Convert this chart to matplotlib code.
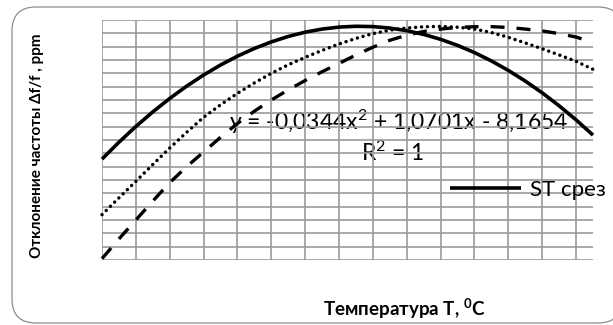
import numpy as np
import matplotlib
matplotlib.use("Agg")
import matplotlib.pyplot as plt
from matplotlib.patches import FancyBboxPatch

plt.rcParams['font.family'] = ['Lato', 'DejaVu Sans']
plt.rcParams['mathtext.fontset'] = 'custom'
plt.rcParams['mathtext.rm'] = 'Lato'
plt.rcParams['mathtext.it'] = 'Lato'
plt.rcParams['mathtext.bf'] = 'Lato:bold'

# температура, град C (шаг 2.5)
temp = [-22.5, -20, -17.5, -15, -12.5, -10, -7.5, -5, -2.5, 0,
        2.5, 5, 7.5, 10, 12.5, 15, 17.5, 20, 22.5, 25,
        27.5, 30, 32.5, 35, 37.5, 40, 42.5, 45, 47.5, 50]

# ST срез (линия тренда, R^2 = 1)
st_cut = [-49.66, -43.33, -37.43, -31.96, -26.92, -22.31, -18.13, -14.38, -11.06, -8.17,
          -5.71, -3.67, -2.07, -0.90, -0.16, 0.15, 0.03, -0.52, -1.50, -2.91,
          -4.75, -7.02, -9.72, -12.85, -16.41, -20.40, -24.82, -29.67, -34.95, -40.66]

# точечная кривая
dotted = [-70.5, -64.2, -58.0, -51.7, -45.5, -39.6, -34.0, -29.3, -25.0, -21.1,
          -17.5, -14.3, -11.5, -8.9, -6.5, -4.4, -2.6, -1.3, -0.5, -0.05,
          0.1, -0.2, -0.9, -2.2, -4.0, -6.1, -8.3, -10.6, -13.0, -16.0]

# штриховая кривая
dashed = [-87.0, -79.6, -72.5, -65.4, -58.5, -52.5, -47.0, -41.5, -36.3, -31.7,
          -27.5, -23.7, -20.2, -16.9, -13.8, -10.6, -7.7, -5.1, -3.2, -1.8,
          -0.9, -0.3, 0.0, 0.0, -0.3, -0.9, -1.6, -2.6, -3.9, -5.9]

eq_text = "y = -0,0344x$^2$ + 1,0701x - 8,1654"
r2_text = "R$^2$ = 1"
xlabel = r"Температура T, $^\mathbf{0}$C"
ylabel = "Отклонение частоты Δf/f , ppm"

W, H = 613, 325
fig = plt.figure(figsize=(W / 100, H / 100), dpi=100)

# фон и рамка диаграммы (пиксельные координаты)
bg = fig.add_axes([0, 0, 1, 1])
bg.set_xlim(0, W)
bg.set_ylim(H, 0)
bg.axis('off')
bg.add_patch(FancyBboxPatch((12, 7), 610, 316, boxstyle="round,pad=0,rounding_size=24",
                            fc='white', ec='#8c8c8c', lw=0.9))

# область построения
x0, x1, y0, y1 = 102, 593, 20, 260
ax = fig.add_axes([x0 / W, (H - y1) / H, (x1 - x0) / W, (y1 - y0) / H])
ax.set_facecolor('none')
ax.set_xlim(-22.5, 50)
ax.set_ylim(-87.5, 2.5)
for s in ax.spines.values():
    s.set_visible(False)
ax.set_xticks(np.arange(-22.5, 50, 5))
ax.set_yticks(np.arange(-87.5, 2.6, 5))
ax.tick_params(length=0, labelbottom=False, labelleft=False)
ax.grid(True, color='#9a9a9a', lw=1.2)
ax.set_axisbelow(True)

ax.plot(temp, dashed, color='black', lw=2.4, linestyle=(0, (4.2, 3.6)),
        dash_capstyle='butt', clip_on=False)
ax.plot(temp, dotted, color='black', lw=2.5, linestyle=(0, (0.01, 1.7)),
        dash_capstyle='round', clip_on=False)
line_st, = ax.plot(temp, st_cut, color='black', lw=2.6, clip_on=False,
                   solid_capstyle='butt')

ax.legend([line_st], ["ST срез"], loc='center left', frameon=False,
          bbox_to_anchor=(450, 190), bbox_transform=bg.transData,
          fontsize=16, handlelength=3.2, handletextpad=0.4,
          borderaxespad=0, borderpad=0)

bg.text(399, 122, eq_text, fontsize=16.5, ha='center', va='center')
bg.text(393, 153, r2_text, fontsize=16.5, ha='center', va='center')
bg.text(404, 309, xlabel, fontsize=13.5, fontweight='bold', ha='center', va='center')
bg.text(37, 146, ylabel, fontsize=11, fontweight='bold', ha='center', va='center',
        rotation=90)

fig.savefig('out.png', dpi=100)
